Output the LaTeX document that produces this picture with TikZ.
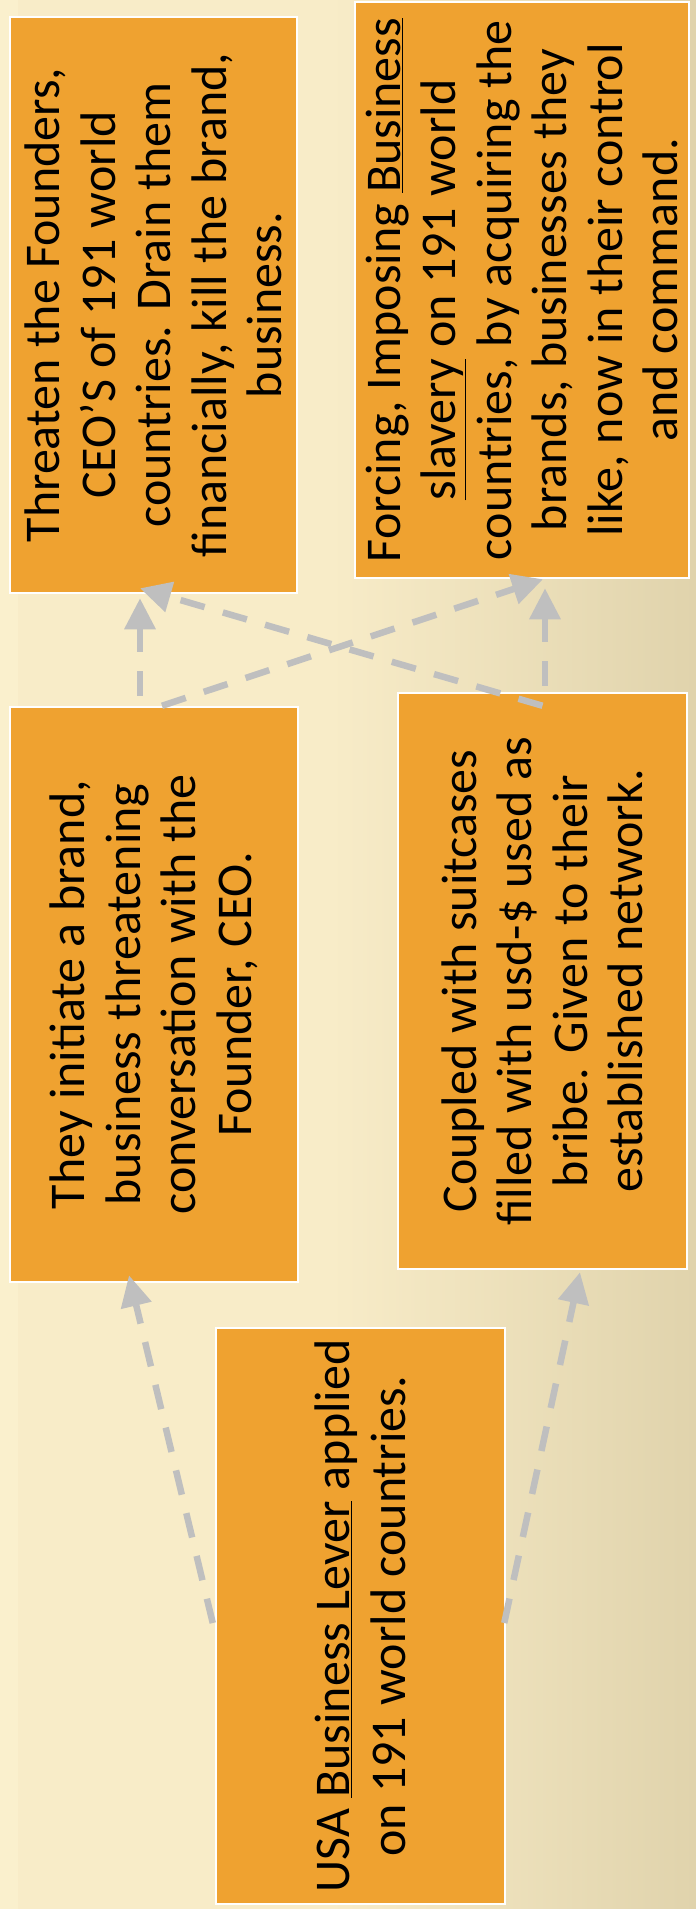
\documentclass[tikz,border=0pt]{standalone}
\usepackage{fontspec}
\setmainfont{Carlito}
\usepackage{graphicx}
\usetikzlibrary{arrows.meta,calc}
\definecolor{boxorange}{HTML}{EFA230}
\definecolor{bgL}{HTML}{FAF0CD}
\definecolor{bgM}{HTML}{F8ECC8}
\definecolor{bgR}{HTML}{E0D3AC}
\definecolor{arrowgray}{HTML}{BFBFBF}
\tikzset{
  box/.style={draw=white, line width=2.5pt, fill=boxorange, inner sep=0pt,
    font=\fontsize{50}{55.5}\selectfont, text=black},
  conn/.style={draw=arrowgray, line width=6.5pt, dash pattern=on 25pt off 19pt,
    -{Triangle[length=31pt,width=30pt]}}
}
\newcommand{\rtext}[1]{\rotatebox{90}{\parbox{570pt}{\centering #1}}}
\begin{document}
\begin{tikzpicture}[x=1pt,y=-1pt]
\useasboundingbox (0,0) rectangle (696,1909);
% background
\fill[bgM] (0,0) rectangle (330,1909);
\shade[left color=bgM, right color=bgR] (330,0) rectangle (696,1909);
\fill[bgL] (0,0) rectangle (18,1909);
% boxes
\node[box, minimum width=287pt, minimum height=576pt] (A) at (153.5,305)
  {\rtext{Threaten the Founders,\\ CEO’S of 191 world\\ countries. Drain them\\ financially, kill the brand,\\ business.}};
\node[box, minimum width=334pt, minimum height=576pt] (B) at (522,290)
  {\rtext{Forcing, Imposing \underline{Business}\\ \underline{slavery} on 191 world\\ countries, by acquiring the\\ brands, businesses they\\ like, now in their control\\ and command.}};
\node[box, minimum width=288pt, minimum height=575pt] (C) at (154,994.5)
  {\rtext{They initiate a brand,\\ business threatening\\ conversation with the\\ Founder, CEO.}};
\node[box, minimum width=289pt, minimum height=576pt] (D) at (542.5,981)
  {\rtext{Coupled with suitcases\\ filled with usd-\$ used as\\ bribe. Given to their\\ established network.}};
\node[box, minimum width=289pt, minimum height=576pt] (E) at (360.5,1616)
  {\rtext{USA \underline{Business Lever} applied\\ on 191 world countries.}};
% connectors
\draw[conn] ($(C.north)+(-14,-10)$) -- ($(A.south)+(-13.5,4)$);
\draw[conn] ($(C.north)+(8,0)$) -- ($(B.south)+(21,0)$);
\draw[conn] ($(D.north)+(0,14)$) -- ($(A.south)+(-13.5,-6)$);
\draw[conn] ($(D.north)+(2.5,-6)$) -- ($(B.south)+(23,9)$);
\draw[conn] ($(E.west)+(-2,7)$) -- ($(C.south)+(-25,-8)$);
\draw[conn] ($(E.east)+(-2,7)$) -- ($(D.south)+(37.5,2)$);
\end{tikzpicture}
\end{document}
